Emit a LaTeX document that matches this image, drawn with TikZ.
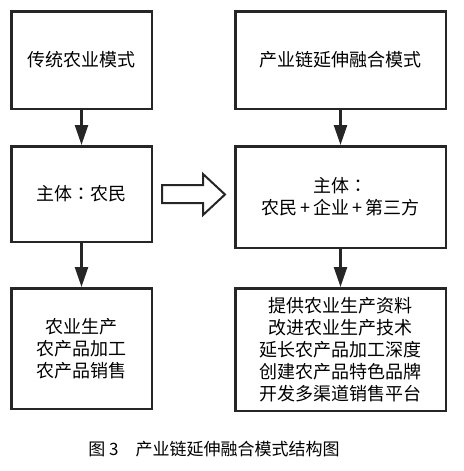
\documentclass[tikz,border=0pt]{standalone}
\usepackage{fontspec}
\setmainfont{Noto Sans CJK SC}
\newfontfamily\tcfont{Noto Sans CJK TC}
\usetikzlibrary{arrows.meta, positioning}
\tikzstyle{leftbox} = [rectangle, minimum width=140.5pt, minimum height=97.5pt, text centered, align=center, draw=black!85, line width=2.5pt, font=\fontsize{18}{22}\selectfont]
\tikzstyle{rightbox} = [leftbox, minimum width=210.5pt]
\tikzstyle{arrow} = [line width=2.5pt, draw=black!85, -{Triangle[width=13pt,length=20pt]}]
\tikzstyle{blockarrow} = [line width=2pt, draw=black!85, line join=miter]

\begin{document}
\begin{tikzpicture}[x=1pt, y=-1pt, node distance=134pt]
\useasboundingbox (0,0) rectangle (463,471);

% Nodes
\node (trad) [leftbox] at (81.5,60) {传统农业模式};
\node (tradsub) [leftbox, below of=trad, minimum height=95.5pt] {主体{\tcfont ：}农民};
\node (tradwork) [leftbox, below of=tradsub, yshift=-20.5pt, minimum height=120.5pt] {农业生产\\农产品加工\\农产品销售};

\node (chain) [rightbox] at (340.5,60) {产业链延伸融合模式};
\node (chainsub) [rightbox, below of=chain, yshift=-3pt, minimum height=101.5pt] {主体{\tcfont ：}\\农民\,+\,企业\,+\,第三方};
\node (chainwork) [rightbox, below of=chainsub, yshift=-18.5pt, minimum height=122.5pt] {提供农业生产资料\\改进农业生产技术\\延长农产品加工深度\\创建农产品特色品牌\\开发多渠道销售平台};

\node (caption) [font=\fontsize{17}{20}\selectfont] at (214,449) {图 3　产业链延伸融合模式结构图};

% Arrows
\draw [arrow] (trad) -- (tradsub);
\draw [arrow] (tradsub) -- (tradwork);
\draw [arrow] (chain) -- (chainsub);
\draw [arrow] (chainsub) -- (chainwork);
\draw [blockarrow] (162,185) -- (203,185) -- (203,174) -- (225,194.5) -- (203,215) -- (203,203) -- (162,203) -- cycle;

\end{tikzpicture}
\end{document}
